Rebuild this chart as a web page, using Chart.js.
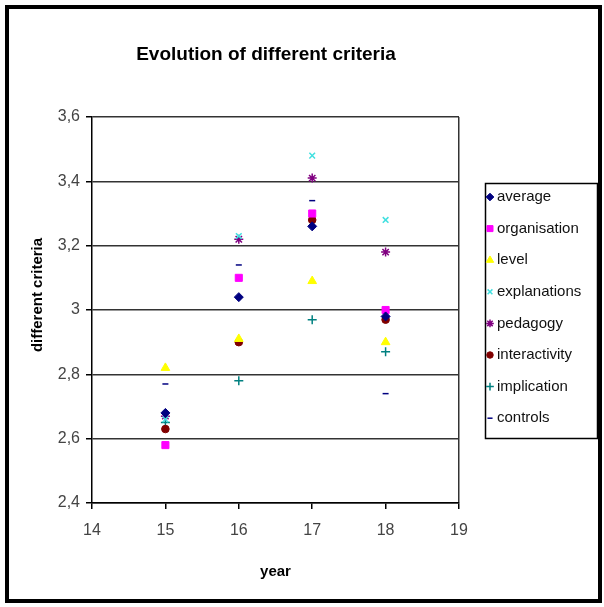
<!DOCTYPE html>
<html>
<head>
<meta charset="utf-8">
<script src="https://cdn.jsdelivr.net/npm/chart.js@4.4.1/dist/chart.umd.min.js"></script>
<style>
  body { margin: 0; background: #fff; }
  #grafico { position: absolute; left: 0; top: 0; }
  #moldura { position: absolute; left: 5px; top: 5px; width: 589px; height: 590px; border: 4px solid #000; pointer-events: none; }
</style>
</head>
<body>
<canvas id="grafico" width="604" height="607"></canvas>
<div id="moldura"></div>
<script>
var anos = [15, 16, 17, 18];
var nomesSeries = ["average", "organisation", "level", "explanations", "pedagogy", "interactivity", "implication", "controls"];

var average = [2.68, 3.04, 3.26, 2.98];
var organisation = [2.58, 3.10, 3.30, 3.00];
var level = [2.82, 2.91, 3.09, 2.90];
var explanations = [2.66, 3.23, 3.48, 3.28];
var pedagogy = [2.67, 3.22, 3.41, 3.18];
var interactivity = [2.63, 2.90, 3.28, 2.97];
var implication = [2.65, 2.78, 2.97, 2.87];
var controls = [2.77, 3.14, 3.34, 2.74];

var ticksY = [2.4, 2.6, 2.8, 3, 3.2, 3.4, 3.6];
var ticksX = [14, 15, 16, 17, 18, 19];

var fonte = "'Liberation Sans', Arial, sans-serif";

// estilo de cada serie (marcador do Excel)
var estilos = [
  { cor: "#000080", ponto: "rectRot", raio: 4.5 },
  { cor: "#ff00ff", ponto: "rect", raio: 5 },
  { cor: "#ffff00", ponto: "triangle", raio: 5 },
  { cor: "#40e0e0", ponto: "crossRot", raio: 4 },
  { cor: "#800080", ponto: "star", raio: 4.5 },
  { cor: "#800000", ponto: "circle", raio: 3.8 },
  { cor: "#008080", ponto: "cross", raio: 4.5 },
  { cor: "#000080", ponto: "line", raio: 3 }
];

var valoresSeries = [average, organisation, level, explanations, pedagogy, interactivity, implication, controls];

function montarDatasets() {
  var lista = [];
  for (var i = 0; i < nomesSeries.length; i++) {
    var pontos = [];
    for (var j = 0; j < anos.length; j++) {
      pontos.push({ x: anos[j], y: valoresSeries[i][j] });
    }
    var linhaSo = ["crossRot", "star", "cross", "line"].indexOf(estilos[i].ponto) >= 0;
    lista.push({
      label: nomesSeries[i],
      data: pontos,
      showLine: false,
      pointStyle: estilos[i].ponto,
      pointRadius: estilos[i].raio,
      pointBackgroundColor: estilos[i].cor,
      pointBorderColor: estilos[i].cor,
      pointBorderWidth: linhaSo ? 1.5 : 1
    });
  }
  return lista;
}

function formatarY(valor) {
  var v = Math.round(valor * 10) / 10;
  return String(v).replace(".", ",");
}

var decoracao = {
  id: "decoracao",
  afterDraw: function (chart) {
    var ctx = chart.ctx;

    ctx.save();
    ctx.fillStyle = "#000";
    ctx.textAlign = "center";
    ctx.textBaseline = "middle";
    ctx.font = "bold 19px " + fonte;
    ctx.fillText("Evolution of different criteria", 266, 55);

    ctx.translate(38, 295);
    ctx.rotate(-Math.PI / 2);
    ctx.font = "bold 15px " + fonte;
    ctx.fillText("different criteria", 0, 0);
    ctx.restore();

    // legenda com caixa
    ctx.save();
    ctx.strokeStyle = "#000";
    ctx.lineWidth = 1.5;
    ctx.strokeRect(485.5, 183.5, 112, 255);
    ctx.font = "15px " + fonte;
    ctx.textAlign = "left";
    ctx.textBaseline = "middle";
    var datasets = chart.data.datasets;
    for (var i = 0; i < datasets.length; i++) {
      var ds = datasets[i];
      var y = 197 + i * 31.6;
      ctx.fillStyle = ds.pointBackgroundColor;
      ctx.strokeStyle = ds.pointBorderColor;
      ctx.lineWidth = ds.pointBorderWidth;
      Chart.helpers.drawPoint(ctx, { pointStyle: ds.pointStyle, radius: ds.pointRadius * 0.85, borderWidth: ds.pointBorderWidth, rotation: 0 }, 490, y);
      ctx.fillStyle = "#111";
      ctx.fillText(ds.label, 497, y);
    }
    ctx.restore();
  }
};

new Chart(grafico.getContext("2d"), {
  type: "scatter",
  data: { datasets: montarDatasets() },
  plugins: [decoracao],
  options: {
    responsive: false,
    animation: false,
    layout: { padding: { top: 117, right: 145, left: 0, bottom: 0 } },
    plugins: {
      legend: { display: false },
      title: { display: false },
      tooltip: { enabled: false }
    },
    scales: {
      x: {
        type: "linear",
        min: 14,
        max: 19,
        afterFit: function (s) { s.height = 104; },
        afterBuildTicks: function (s) { s.ticks = ticksX.map(function (v) { return { value: v }; }); },
        ticks: { color: "#444", font: { size: 16, family: fonte }, padding: 12 },
        grid: {
          color: function (c) { return c.tick && c.tick.value === 19 ? "#333" : "rgba(0,0,0,0)"; },
          tickColor: "#000",
          tickLength: 6,
          lineWidth: 1.5
        },
        border: { color: "#000", width: 1.5 },
        title: { display: true, text: "year", color: "#000", font: { size: 15, weight: "bold", family: fonte }, padding: { top: 0, bottom: 26 } }
      },
      y: {
        min: 2.4,
        max: 3.6,
        afterFit: function (s) { s.width = 92; },
        afterBuildTicks: function (s) { s.ticks = ticksY.map(function (v) { return { value: v }; }); },
        ticks: { color: "#444", font: { size: 16, family: fonte }, padding: 6, callback: formatarY },
        grid: { color: "#333", tickColor: "#000", tickLength: 6, lineWidth: 1.5 },
        border: { color: "#000", width: 1.5 },
        title: { display: false }
      }
    }
  }
});
</script>
</body>
</html>
